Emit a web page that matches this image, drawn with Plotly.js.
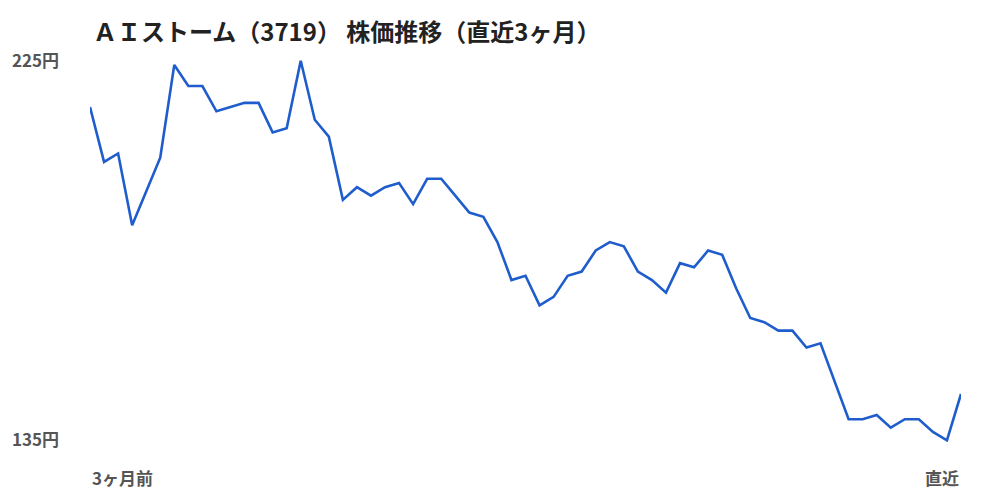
<!DOCTYPE html>
<html>
<head>
<meta charset="utf-8">
<script src="https://cdn.plot.ly/plotly-3.0.1.min.js"></script>
<style>
  html, body { margin: 0; padding: 0; background: #fff; }
  #chart { width: 1000px; height: 500px; }
</style>
</head>
<body>
<div id="chart"></div>
<script>
// 終値（直近3ヶ月、営業日ごと）
var kabuka = [
  214, 201, 203, 186, 194, 202, 224, 219, 219, 213,
  214, 215, 215, 208, 209, 225, 211, 207, 192, 195,
  193, 195, 196, 191, 197, 197, 193, 189, 188, 182,
  173, 174, 167, 169, 174, 175, 180, 182, 181, 175,
  173, 170, 177, 176, 180, 179, 171, 164, 163, 161,
  161, 157, 158, 149, 140, 140, 141, 138, 140, 140,
  137, 135, 146
];
var hiduke = kabuka.map(function(v, i) { return i; });
var yTicks = [135, 225];
var yTickText = ["135円", "225円"];
var xLabels = ["3ヶ月前", "直近"];
var titleText = "ＡＩストーム（3719） 株価推移（直近3ヶ月）";

var fontJP = "'Noto Sans CJK JP', 'Noto Sans', sans-serif";
var lastIdx = hiduke[hiduke.length - 1];
var labelFont = { family: fontJP, size: 17, color: "#555555", weight: "bold" };

var trace = {
  x: hiduke,
  y: kabuka,
  type: "scatter",
  mode: "lines",
  line: { color: "#1f5dcc", width: 2.6 },
  hoverinfo: "none"
};

var layout = {
  width: 1000,
  height: 500,
  margin: { l: 90, r: 39, t: 59, b: 58 },
  paper_bgcolor: "#ffffff",
  plot_bgcolor: "#ffffff",
  showlegend: false,
  title: {
    text: titleText,
    xref: "container",
    yref: "container",
    x: 0.093,
    xanchor: "left",
    y: 0.934,
    yanchor: "middle",
    font: { family: fontJP, size: 24, color: "#222222", weight: "bold" }
  },
  xaxis: {
    range: [0, lastIdx],
    showgrid: false,
    zeroline: false,
    showline: false,
    showticklabels: false,
    ticks: ""
  },
  yaxis: {
    range: [134.6, 225.4],
    tickvals: yTicks,
    ticktext: yTickText,
    showgrid: false,
    zeroline: false,
    showline: false,
    ticks: "",
    ticklabelstandoff: 30,
    tickfont: labelFont
  },
  annotations: [
    {
      text: xLabels[0], x: 0, xref: "x", xanchor: "left",
      y: 0, yref: "paper", yanchor: "top", yshift: -21, showarrow: false,
      font: labelFont
    },
    {
      text: xLabels[1], x: lastIdx, xref: "x", xanchor: "right",
      y: 0, yref: "paper", yanchor: "top", yshift: -21, showarrow: false,
      font: labelFont
    }
  ]
};

Plotly.newPlot("chart", [trace], layout, { staticPlot: true, displayModeBar: false });
</script>
</body>
</html>
